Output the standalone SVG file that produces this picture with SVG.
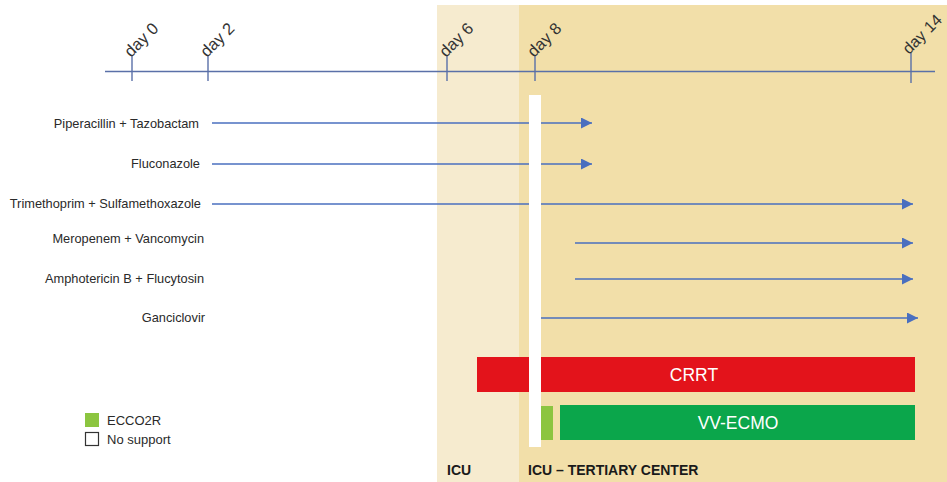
<svg xmlns="http://www.w3.org/2000/svg" width="947" height="482" viewBox="0 0 947 482">
<defs>
<style>
.lbl{font-family:"Liberation Sans",Arial,sans-serif;font-size:12.8px;fill:#2a2a2a;text-anchor:end}
.day{font-family:"Liberation Sans",Arial,sans-serif;font-size:16.5px;fill:#333}
.bar{font-family:"Liberation Sans",Arial,sans-serif;font-size:17.5px;fill:#fff;text-anchor:middle}
.zone{font-family:"Liberation Sans",Arial,sans-serif;font-size:14px;font-weight:bold;fill:#1a1a1a}
.leg{font-family:"Liberation Sans",Arial,sans-serif;font-size:13px;fill:#2a2a2a}
.arr{stroke:#4a6fbf;stroke-width:1.6;fill:none}
.tick{stroke:#5a70a8;stroke-width:1.4}
</style>
<marker id="ah2" viewBox="0 0 10 10" refX="10" refY="5" markerWidth="11" markerHeight="11" markerUnits="userSpaceOnUse" orient="auto">
<path d="M0,0 L10,5 L0,10 z" fill="#4a6fbf"/>
</marker>
</defs>
<rect width="947" height="482" fill="#fff"/>
<g id="zone-icu">
<rect x="437" y="5" width="82" height="477" fill="#f6ebcf"/>
<text class="zone" x="447" y="475">ICU</text>
</g>
<g id="zone-tertiary">
<rect x="519" y="5" width="428" height="477" fill="#f2dfa9"/>
<text class="zone" x="528" y="475">ICU – TERTIARY CENTER</text>
</g>
<g id="timeline">
<line x1="105" y1="71.5" x2="935" y2="71.5" stroke="#5a70a8" stroke-width="1.4"/>
<line class="tick" x1="132" y1="56" x2="132" y2="81"/>
<line class="tick" x1="208" y1="56" x2="208" y2="81"/>
<line class="tick" x1="447" y1="56" x2="447" y2="81"/>
<line class="tick" x1="535" y1="56" x2="535" y2="81"/>
<line class="tick" x1="911" y1="53" x2="911" y2="83"/>
<text class="day" transform="translate(131,58) rotate(-45)">day 0</text>
<text class="day" transform="translate(207,58) rotate(-45)">day 2</text>
<text class="day" transform="translate(446,58) rotate(-45)">day 6</text>
<text class="day" transform="translate(534,58) rotate(-45)">day 8</text>
<text class="day" transform="translate(909,55) rotate(-45)" style="font-size:16px">day 14</text>
</g>
<g id="labels">
<text class="lbl" x="199" y="128">Piperacillin + Tazobactam</text>
<text class="lbl" x="200" y="167.5">Fluconazole</text>
<text class="lbl" x="201" y="207.5">Trimethoprim + Sulfamethoxazole</text>
<text class="lbl" x="204" y="242.5">Meropenem + Vancomycin</text>
<text class="lbl" x="204" y="282.5">Amphotericin B + Flucytosin</text>
<text class="lbl" x="205" y="321.5">Ganciclovir</text>
</g>
<g id="connectors">
<line class="arr" x1="212" y1="123" x2="592" y2="123" marker-end="url(#ah2)"/>
<line class="arr" x1="212" y1="164" x2="592" y2="164" marker-end="url(#ah2)"/>
<line class="arr" x1="212" y1="204" x2="913" y2="204" marker-end="url(#ah2)"/>
<line class="arr" x1="575" y1="243" x2="913" y2="243" marker-end="url(#ah2)"/>
<line class="arr" x1="575" y1="279" x2="913" y2="279" marker-end="url(#ah2)"/>
<line class="arr" x1="541" y1="318" x2="918" y2="318" marker-end="url(#ah2)"/>
</g>
<g id="crrt">
<rect x="477" y="357" width="438" height="35" fill="#e3131b"/>
<text class="bar" x="694" y="381">CRRT</text>
</g>
<g id="ecco2r">
<rect x="540" y="406" width="13" height="34" fill="#8cc540"/>
</g>
<g id="vv-ecmo">
<rect x="560" y="405" width="355" height="35" fill="#0ba64b"/>
<text class="bar" x="738" y="429">VV-ECMO</text>
</g>
<g id="no-support-bar">
<rect x="529" y="95" width="12" height="352" fill="#fff"/>
</g>
<g id="legend">
<rect x="85" y="413" width="14" height="14" fill="#8cc540"/>
<text class="leg" x="107" y="424.5">ECCO2R</text>
<rect x="85.5" y="432.5" width="13" height="13" fill="#fff" stroke="#333" stroke-width="1.2"/>
<text class="leg" x="107" y="444">No support</text>
</g>
</svg>
